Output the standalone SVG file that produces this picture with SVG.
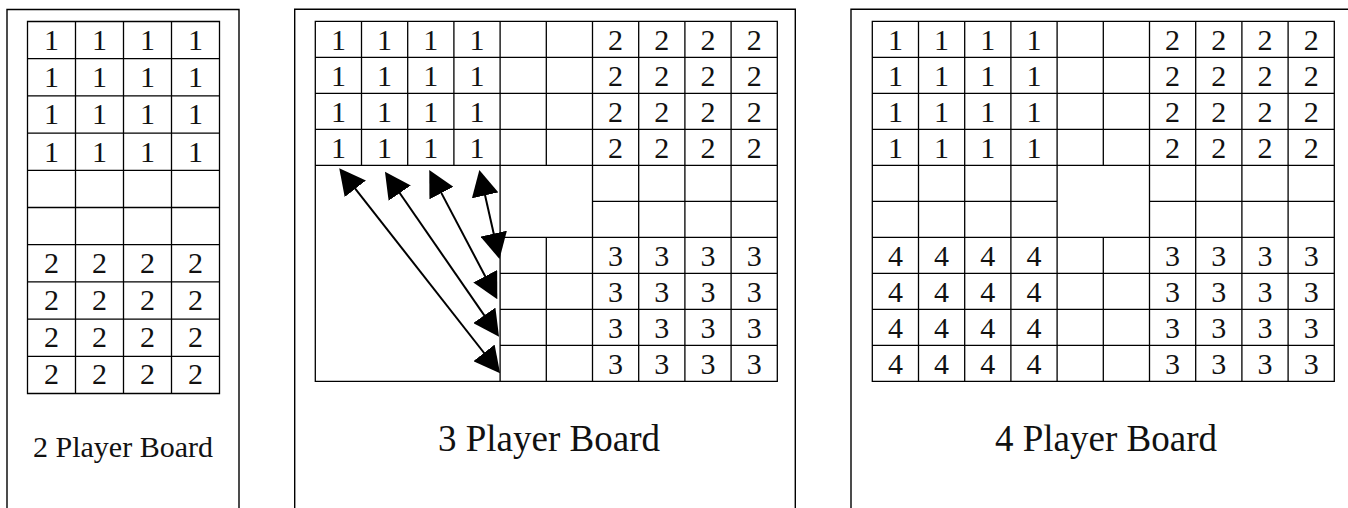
<svg xmlns="http://www.w3.org/2000/svg" width="1348" height="508" viewBox="0 0 1348 508">
<style>
.frame{fill:none;stroke:#000;stroke-width:1.4}
.grid{fill:none;stroke:#000;stroke-width:1.3}
.d{font-family:"Liberation Serif","Times New Roman",serif;font-size:30px;fill:#111;text-anchor:middle}
.lbl{font-family:"Liberation Serif","Times New Roman",serif;fill:#111;text-anchor:middle}
.arrow{fill:none;stroke:#000;stroke-width:2}
</style>
<defs>
<marker id="ah" viewBox="0 0 26 27" markerWidth="26" markerHeight="27" refX="18" refY="13.5" markerUnits="userSpaceOnUse" orient="auto-start-reverse">
<path d="M0,0 L26,13.5 L0,27 Z" fill="#000"/>
</marker>
</defs>
<rect width="1348" height="508" fill="#fff"/>

<g id="board2p">
<path class="frame" d="M7,508 V9.5 H239 V508"/>
<path class="grid" d="M27.5,21.5 H219.5 V393.5 H27.5 Z M75.5,21.5 V393.5 M123.5,21.5 V393.5 M171.5,21.5 V393.5 M27.5,58.7 H219.5 M27.5,95.9 H219.5 M27.5,133.1 H219.5 M27.5,170.3 H219.5 M27.5,207.5 H219.5 M27.5,244.7 H219.5 M27.5,281.9 H219.5 M27.5,319.1 H219.5 M27.5,356.3 H219.5"/>
<g class="d">
<text x="51.5" y="50">1</text><text x="99.5" y="50">1</text><text x="147.5" y="50">1</text><text x="195.5" y="50">1</text>
<text x="51.5" y="87.2">1</text><text x="99.5" y="87.2">1</text><text x="147.5" y="87.2">1</text><text x="195.5" y="87.2">1</text>
<text x="51.5" y="124.4">1</text><text x="99.5" y="124.4">1</text><text x="147.5" y="124.4">1</text><text x="195.5" y="124.4">1</text>
<text x="51.5" y="161.6">1</text><text x="99.5" y="161.6">1</text><text x="147.5" y="161.6">1</text><text x="195.5" y="161.6">1</text>
<text x="51.5" y="272.8">2</text><text x="99.5" y="272.8">2</text><text x="147.5" y="272.8">2</text><text x="195.5" y="272.8">2</text>
<text x="51.5" y="310">2</text><text x="99.5" y="310">2</text><text x="147.5" y="310">2</text><text x="195.5" y="310">2</text>
<text x="51.5" y="347.2">2</text><text x="99.5" y="347.2">2</text><text x="147.5" y="347.2">2</text><text x="195.5" y="347.2">2</text>
<text x="51.5" y="384.4">2</text><text x="99.5" y="384.4">2</text><text x="147.5" y="384.4">2</text><text x="195.5" y="384.4">2</text>
</g>
<text class="lbl" x="123" y="457" font-size="30">2 Player Board</text>
</g>

<g id="board3p">
<path class="frame" d="M294.7,508 V9.3 H795.3 V508"/>
<path class="grid" d="M315.3,21.3 H777.3 V381.3 H315.3 Z
M315.3,57.3 H777.3 M315.3,93.3 H777.3 M315.3,129.3 H777.3 M315.3,165.3 H777.3
M592.5,201.3 H777.3 M500.1,237.3 H777.3 M500.1,273.3 H777.3 M500.1,309.3 H777.3 M500.1,345.3 H777.3
M361.5,21.3 V165.3 M407.7,21.3 V165.3 M453.9,21.3 V165.3 M500.1,21.3 V381.3
M546.3,21.3 V165.3 M546.3,237.3 V381.3
M592.5,21.3 V381.3 M638.7,21.3 V381.3 M684.9,21.3 V381.3 M731.1,21.3 V381.3"/>
<g class="d">
<text x="338.4" y="49.5">1</text><text x="384.6" y="49.5">1</text><text x="430.8" y="49.5">1</text><text x="477" y="49.5">1</text>
<text x="338.4" y="85.5">1</text><text x="384.6" y="85.5">1</text><text x="430.8" y="85.5">1</text><text x="477" y="85.5">1</text>
<text x="338.4" y="121.5">1</text><text x="384.6" y="121.5">1</text><text x="430.8" y="121.5">1</text><text x="477" y="121.5">1</text>
<text x="338.4" y="157.5">1</text><text x="384.6" y="157.5">1</text><text x="430.8" y="157.5">1</text><text x="477" y="157.5">1</text>
<text x="615.6" y="49.5">2</text><text x="661.8" y="49.5">2</text><text x="708" y="49.5">2</text><text x="754.2" y="49.5">2</text>
<text x="615.6" y="85.5">2</text><text x="661.8" y="85.5">2</text><text x="708" y="85.5">2</text><text x="754.2" y="85.5">2</text>
<text x="615.6" y="121.5">2</text><text x="661.8" y="121.5">2</text><text x="708" y="121.5">2</text><text x="754.2" y="121.5">2</text>
<text x="615.6" y="157.5">2</text><text x="661.8" y="157.5">2</text><text x="708" y="157.5">2</text><text x="754.2" y="157.5">2</text>
<text x="615.6" y="265.5">3</text><text x="661.8" y="265.5">3</text><text x="708" y="265.5">3</text><text x="754.2" y="265.5">3</text>
<text x="615.6" y="301.5">3</text><text x="661.8" y="301.5">3</text><text x="708" y="301.5">3</text><text x="754.2" y="301.5">3</text>
<text x="615.6" y="337.5">3</text><text x="661.8" y="337.5">3</text><text x="708" y="337.5">3</text><text x="754.2" y="337.5">3</text>
<text x="615.6" y="373.5">3</text><text x="661.8" y="373.5">3</text><text x="708" y="373.5">3</text><text x="754.2" y="373.5">3</text>
</g>
<text class="lbl" x="549" y="450.5" font-size="37">3 Player Board</text>
</g>

<g id="board4p">
<path class="frame" d="M851,508 V9.3 H1348"/>
<path class="grid" d="M872.3,21.3 H1334.3 V381.3 H872.3 Z
M872.3,57.3 H1334.3 M872.3,93.3 H1334.3 M872.3,129.3 H1334.3 M872.3,165.3 H1334.3
M872.3,201.3 H1057.1 M1149.5,201.3 H1334.3
M872.3,237.3 H1334.3 M872.3,273.3 H1334.3 M872.3,309.3 H1334.3 M872.3,345.3 H1334.3
M918.5,21.3 V381.3 M964.7,21.3 V381.3 M1010.9,21.3 V381.3 M1057.1,21.3 V381.3
M1103.3,21.3 V165.3 M1103.3,237.3 V381.3
M1149.5,21.3 V381.3 M1195.7,21.3 V381.3 M1241.9,21.3 V381.3 M1288.1,21.3 V381.3"/>
<g class="d">
<text x="895.4" y="49.5">1</text><text x="941.6" y="49.5">1</text><text x="987.8" y="49.5">1</text><text x="1034" y="49.5">1</text>
<text x="895.4" y="85.5">1</text><text x="941.6" y="85.5">1</text><text x="987.8" y="85.5">1</text><text x="1034" y="85.5">1</text>
<text x="895.4" y="121.5">1</text><text x="941.6" y="121.5">1</text><text x="987.8" y="121.5">1</text><text x="1034" y="121.5">1</text>
<text x="895.4" y="157.5">1</text><text x="941.6" y="157.5">1</text><text x="987.8" y="157.5">1</text><text x="1034" y="157.5">1</text>
<text x="1172.6" y="49.5">2</text><text x="1218.8" y="49.5">2</text><text x="1265" y="49.5">2</text><text x="1311.2" y="49.5">2</text>
<text x="1172.6" y="85.5">2</text><text x="1218.8" y="85.5">2</text><text x="1265" y="85.5">2</text><text x="1311.2" y="85.5">2</text>
<text x="1172.6" y="121.5">2</text><text x="1218.8" y="121.5">2</text><text x="1265" y="121.5">2</text><text x="1311.2" y="121.5">2</text>
<text x="1172.6" y="157.5">2</text><text x="1218.8" y="157.5">2</text><text x="1265" y="157.5">2</text><text x="1311.2" y="157.5">2</text>
<text x="895.4" y="265.5">4</text><text x="941.6" y="265.5">4</text><text x="987.8" y="265.5">4</text><text x="1034" y="265.5">4</text>
<text x="895.4" y="301.5">4</text><text x="941.6" y="301.5">4</text><text x="987.8" y="301.5">4</text><text x="1034" y="301.5">4</text>
<text x="895.4" y="337.5">4</text><text x="941.6" y="337.5">4</text><text x="987.8" y="337.5">4</text><text x="1034" y="337.5">4</text>
<text x="895.4" y="373.5">4</text><text x="941.6" y="373.5">4</text><text x="987.8" y="373.5">4</text><text x="1034" y="373.5">4</text>
<text x="1172.6" y="265.5">3</text><text x="1218.8" y="265.5">3</text><text x="1265" y="265.5">3</text><text x="1311.2" y="265.5">3</text>
<text x="1172.6" y="301.5">3</text><text x="1218.8" y="301.5">3</text><text x="1265" y="301.5">3</text><text x="1311.2" y="301.5">3</text>
<text x="1172.6" y="337.5">3</text><text x="1218.8" y="337.5">3</text><text x="1265" y="337.5">3</text><text x="1311.2" y="337.5">3</text>
<text x="1172.6" y="373.5">3</text><text x="1218.8" y="373.5">3</text><text x="1265" y="373.5">3</text><text x="1311.2" y="373.5">3</text>
</g>
<text class="lbl" x="1106" y="450.5" font-size="37">4 Player Board</text>
</g>

<g id="connectors">
<path class="arrow" marker-start="url(#ah)" marker-end="url(#ah)" d="M344.2,174.6 L495.1,367"/>
<path class="arrow" marker-start="url(#ah)" marker-end="url(#ah)" d="M389.5,178.3 L494.5,330.1"/>
<path class="arrow" marker-start="url(#ah)" marker-end="url(#ah)" d="M433,177.1 L493.6,292.2"/>
<path class="arrow" marker-start="url(#ah)" marker-end="url(#ah)" d="M481.1,177.8 L497.7,251.2"/>
</g>
</svg>
